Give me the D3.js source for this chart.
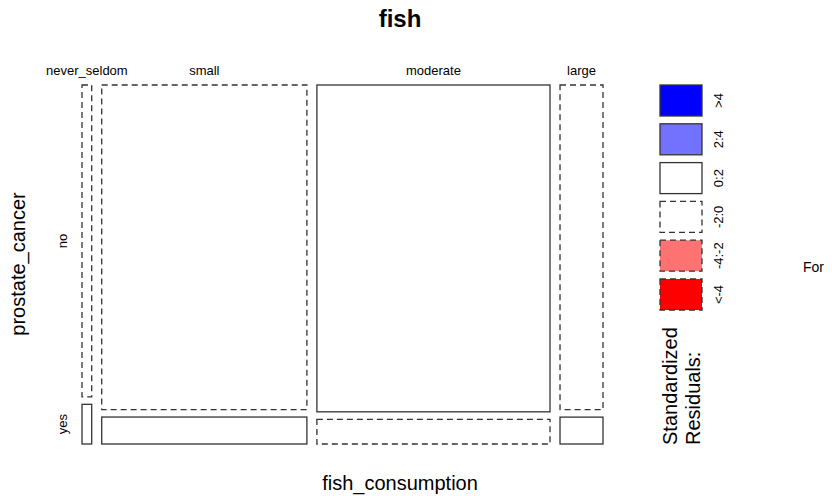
<!DOCTYPE html>
<html>
<head>
<meta charset="utf-8">
<script src="https://cdn.jsdelivr.net/npm/d3@7"></script>
<style>
  body { margin: 0; background: #fff; }
  svg { font-family: "Liberation Sans", Arial, sans-serif; }
</style>
</head>
<body>
<svg id="chart" width="832" height="496"></svg>
<script>
// Counts read from the mosaic (fish consumption x prostate cancer)
const categories = ["never_seldom", "small", "moderate", "large"];
const outcomes = ["no", "yes"];
const countNo = [110, 2420, 2769, 507];
const countYes = [14, 201, 209, 42];

// Legend bins for standardized residuals
const legendLabels = [">4", "2:4", "0:2", "-2:0", "-4:-2", "<-4"];
const legendColors = ["#0000ff", "#7272ff", "#ffffff", "#ffffff", "#ff7272", "#ff0000"];

const svg = d3.select("#chart");

// Plot region
const plotLeft = 82, plotRight = 603, plotTop = 85, plotBottom = 444;
const gapX = 10, gapY = 7.5;

const colTotals = categories.map((c, i) => countNo[i] + countYes[i]);
const total = d3.sum(colTotals);
const rowTotals = [d3.sum(countNo), d3.sum(countYes)];

const xScale = d3.scaleLinear()
    .domain([0, total])
    .range([0, (plotRight - plotLeft) - gapX * (categories.length - 1)]);

const cum = [0];
colTotals.forEach((t, i) => cum.push(cum[i] + t));

// Pearson residuals decide the border style (and fill, if large)
function residual(obs, i, j) {
    const expct = colTotals[i] * rowTotals[j] / total;
    return (obs - expct) / Math.sqrt(expct);
}
function fillFor(r) {
    if (r > 4) return legendColors[0];
    if (r > 2) return legendColors[1];
    if (r < -4) return legendColors[5];
    if (r < -2) return legendColors[4];
    return "#ffffff";
}

const cells = [];
categories.forEach((cat, i) => {
    const yScale = d3.scaleLinear()
        .domain([0, colTotals[i]])
        .range([0, (plotBottom - plotTop) - gapY]);
    const x0 = plotLeft + xScale(cum[i]) + i * gapX;
    const w = xScale(colTotals[i]);
    const hNo = yScale(countNo[i]);
    const hYes = yScale(countYes[i]);
    cells.push({ cat, i, j: 0, x: x0, y: plotTop, w, h: hNo, r: residual(countNo[i], i, 0) });
    cells.push({ cat, i, j: 1, x: x0, y: plotTop + hNo + gapY, w, h: hYes, r: residual(countYes[i], i, 1) });
});

svg.append("g").selectAll("rect")
    .data(cells)
    .join("rect")
    .attr("x", d => d.x)
    .attr("y", d => d.y)
    .attr("width", d => d.w)
    .attr("height", d => d.h)
    .attr("fill", d => fillFor(d.r))
    .attr("stroke", "#333")
    .attr("stroke-width", 1.3)
    .attr("stroke-dasharray", d => d.r < 0 ? "6,4" : null);

// Column labels
svg.append("g").selectAll("text")
    .data(cells.filter(d => d.j === 0))
    .join("text")
    .attr("x", d => d.x + d.w / 2)
    .attr("y", 75)
    .attr("text-anchor", "middle")
    .attr("font-size", 13)
    .text(d => d.cat);

// Row labels (against the first column)
svg.append("g").selectAll("text")
    .data(cells.filter(d => d.i === 0))
    .join("text")
    .attr("transform", d => `translate(67,${d.y + d.h / 2}) rotate(-90)`)
    .attr("text-anchor", "middle")
    .attr("font-size", 13)
    .text(d => outcomes[d.j]);

// Titles
svg.append("text")
    .attr("x", 400).attr("y", 27)
    .attr("text-anchor", "middle")
    .attr("font-size", 24).attr("font-weight", "bold")
    .text("fish");

svg.append("text")
    .attr("x", 400).attr("y", 490)
    .attr("text-anchor", "middle")
    .attr("font-size", 20)
    .text("fish_consumption");

svg.append("text")
    .attr("transform", "translate(25,264) rotate(-90)")
    .attr("text-anchor", "middle")
    .attr("font-size", 20)
    .text("prostate_cancer");

// Legend
const legend = svg.append("g");
const boxH = 31, boxStep = 38.8, boxX = 660, boxW = 42, boxTop = 85;
legendLabels.forEach((lab, k) => {
    const y = boxTop + k * boxStep;
    legend.append("rect")
        .attr("x", boxX).attr("y", y)
        .attr("width", boxW).attr("height", boxH)
        .attr("fill", legendColors[k])
        .attr("stroke", "#333")
        .attr("stroke-width", 1.3)
        .attr("stroke-dasharray", k >= 3 ? "6,4" : null);
    legend.append("text")
        .attr("transform", `translate(723,${y + boxH / 2}) rotate(-90)`)
        .attr("text-anchor", "middle")
        .attr("font-size", 13)
        .text(lab);
});

legend.append("text")
    .attr("transform", "translate(677,445) rotate(-90)")
    .attr("font-size", 20)
    .text("Standardized");
legend.append("text")
    .attr("transform", "translate(700,445) rotate(-90)")
    .attr("font-size", 20)
    .text("Residuals:");

svg.append("text")
    .attr("x", 803).attr("y", 272)
    .attr("font-size", 14)
    .text("For");
</script>
</body>
</html>
